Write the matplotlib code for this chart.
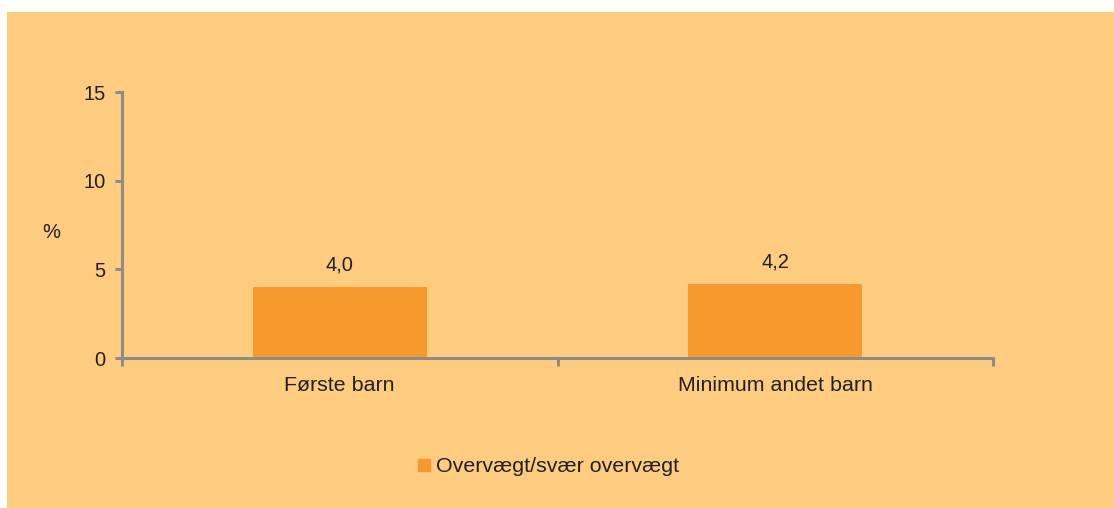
import matplotlib
matplotlib.use("Agg")
import matplotlib.pyplot as plt
from matplotlib.patches import Rectangle
from matplotlib.lines import Line2D

categories = ["Første barn", "Minimum andet barn"]
values = [4.0, 4.2]
value_labels = ["4,0", "4,2"]
series_name = "Overvægt/svær overvægt"
yticks = [0, 5, 10, 15]

W, H = 1114, 508
BG = "#FECC7E"
BAR = "#F79A2E"
AXIS = "#8C8C8C"
TEXT = "#231F20"
FS_TICK = 14.5
FS_VAL = 14.5
FS_CAT = 15.4

plt.rcParams["font.family"] = ["Liberation Sans", "DejaVu Sans"]

fig = plt.figure(figsize=(W / 100, H / 100), dpi=100)
fig.patch.set_facecolor("white")
panel = Rectangle((7 / W, 0), 1 - 7 / W, (H - 12) / H,
                  transform=fig.transFigure, facecolor=BG,
                  edgecolor="none", zorder=-10)
fig.add_artist(panel)

ax = fig.add_axes([122 / W, 1 - 358 / H, (993 - 122) / W, (358 - 92) / H])
ax.set_facecolor("none")
ax.set_zorder(1)

x = list(range(len(categories)))
ax.bar(x, values, width=0.4, color=BAR, zorder=2)
for xi, v, lab in zip(x, values, value_labels):
    ax.annotate(lab, (xi, v), xytext=(0, 9), textcoords="offset points",
                ha="center", va="bottom", fontsize=FS_VAL, color=TEXT)

ax.set_xlim(-0.5, len(categories) - 0.5)
ax.set_ylim(0, 15)
ax.set_yticks(yticks)
ax.set_yticklabels([str(t) for t in yticks])
ax.set_xticks([-0.5, 0.5, 1.5], minor=True)
ax.set_xticks(x)
ax.set_xticklabels(categories)

for s in ["top", "right"]:
    ax.spines[s].set_visible(False)
for s in ["left", "bottom"]:
    ax.spines[s].set_color(AXIS)
    ax.spines[s].set_linewidth(2.2)

ax.tick_params(axis="y", direction="out", length=5, width=2.2, color=AXIS,
               labelsize=FS_TICK, labelcolor=TEXT, pad=7)
ax.tick_params(axis="x", which="major", length=0, labelsize=FS_CAT,
               labelcolor=TEXT, pad=13)
ax.tick_params(axis="x", which="minor", direction="out", length=6,
               width=2.2, color=AXIS)

fig.text(51 / W, 1 - 232 / H, "%", ha="center", va="center",
         fontsize=FS_VAL, color=TEXT)

handle = Line2D([], [], marker="s", linestyle="none", markersize=8,
                markerfacecolor=BAR, markeredgecolor=BAR)
fig.legend([handle], [series_name], loc="center",
           bbox_to_anchor=(546 / W, 1 - 467 / H), frameon=False,
           fontsize=FS_CAT, handletextpad=0.05, handlelength=1.0,
           labelcolor=TEXT)

fig.savefig("out.png", dpi=100, facecolor=fig.get_facecolor())
